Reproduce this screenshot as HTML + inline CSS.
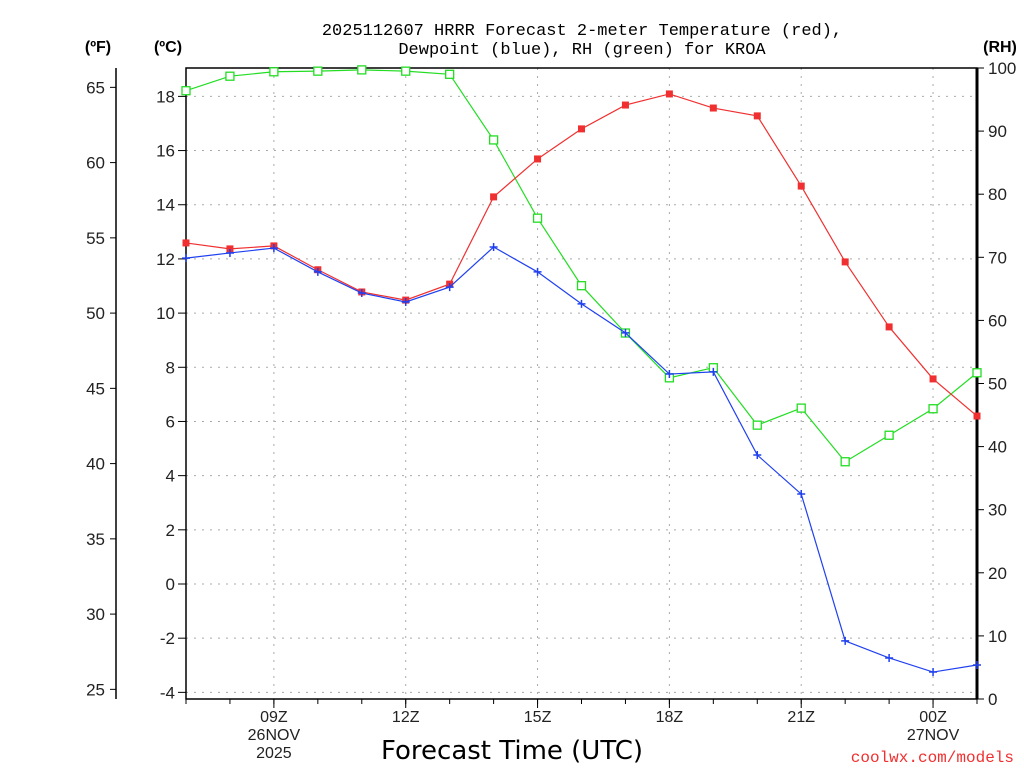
<!DOCTYPE html>
<html><head><meta charset="utf-8"><style>
body{margin:0;background:#fff;width:1024px;height:768px;overflow:hidden}
svg text{font-family:"Liberation Sans",sans-serif}
svg text.mono{font-family:"Liberation Mono",monospace}
svg text.dv{font-family:"DejaVu Sans",sans-serif}
</style></head><body>
<svg id="c" width="1024" height="768" xmlns="http://www.w3.org/2000/svg">
<text class="mono" x="582" y="35" text-anchor="middle" font-size="17">2025112607 HRRR Forecast 2-meter Temperature (red),</text>
<text class="mono" x="582" y="54" text-anchor="middle" font-size="17">Dewpoint (blue), RH (green) for KROA</text>
<text x="98" y="52" text-anchor="middle" font-size="16" font-weight="bold">(ºF)</text>
<text x="168" y="52" text-anchor="middle" font-size="16" font-weight="bold">(ºC)</text>
<text x="1000" y="52" text-anchor="middle" font-size="16" font-weight="bold">(RH)</text>
<text class="dv" x="512" y="759" text-anchor="middle" font-size="26">Forecast Time (UTC)</text>
<text class="mono" x="1014" y="762" text-anchor="end" font-size="16" fill="#f03030">coolwx.com/models</text>
<g id="g"></g>
</svg>
<script>
const hours=[7,8,9,10,11,12,13,14,15,16,17,18,19,20,21,22,23,24,25];
const tempC=[12.59,12.37,12.48,11.6,10.78,10.48,11.07,14.29,15.69,16.8,17.68,18.09,17.57,17.28,14.69,11.89,9.49,7.57,6.2];
const dewC=[12.03,12.22,12.4,11.52,10.74,10.41,10.96,12.44,11.52,10.34,9.27,7.75,7.83,4.76,3.32,-2.1,-2.73,-3.25,-2.99];
const rh=[96.4,98.7,99.4,99.5,99.7,99.5,99.0,88.6,76.2,65.5,58.0,50.9,52.5,43.4,46.1,37.6,41.8,46.0,51.7];
const cTicks=[18,16,14,12,10,8,6,4,2,0,-2,-4];
const fTicks=[65,60,55,50,45,40,35,30,25];
const rhTicks=[100,90,80,70,60,50,40,30,20,10,0];
const xTicks=[9,12,15,18,21,24];
const xLabels=["09Z","12Z","15Z","18Z","21Z","00Z"];
const L=186,R=977,T=68,B=699;
const X=h=>L+(h-7)*(R-L)/18;
const YC=c=>584-c*27.09;
const YF=f=>YC((f-32)*5/9);
const YR=r=>B-r*(B-T)/100;
const g=document.getElementById('g');
const NS="http://www.w3.org/2000/svg";
function el(t,a,p){const e=document.createElementNS(NS,t);for(const k in a)e.setAttribute(k,a[k]);(p||g).appendChild(e);return e;}
cTicks.forEach(c=>{const y=YC(c);
 const l=el('line',{x1:L,x2:R,y1:y,y2:y,stroke:'#aaa','stroke-dasharray':'2,6'});
 
 el('line',{x1:178,x2:L,y1:y,y2:y,stroke:'#000'});
 const t=el('text',{x:175,y:y+6,'text-anchor':'end','font-size':17,fill:'#222'});t.textContent=c;
 });
fTicks.forEach(f=>{const y=YF(f);
 el('line',{x1:110,x2:116,y1:y,y2:y,stroke:'#000'});
 const t=el('text',{x:105,y:y+6,'text-anchor':'end','font-size':17,fill:'#222'});t.textContent=f;
 });
el('line',{x1:116,x2:116,y1:T,y2:B,stroke:'#000','stroke-width':1.5});
rhTicks.forEach(r=>{const y=YR(r);
 el('line',{x1:R,x2:R+7,y1:y,y2:y,stroke:'#000'});
 const t=el('text',{x:988,y:y+6,'font-size':17,fill:'#222'});t.textContent=r;
 });
for(let h=7;h<=25;h++){el('line',{x1:X(h),x2:X(h),y1:B,y2:B+5,stroke:'#000'});}
xTicks.forEach((h,i)=>{const x=X(h);
 const l=el('line',{x1:x,x2:x,y1:T,y2:B,stroke:'#aaa','stroke-dasharray':'2,6'});
 
 el('line',{x1:x,x2:x,y1:B,y2:B+9,stroke:'#000'});
 const t=el('text',{x:x,y:722,'text-anchor':'middle','font-size':16,fill:'#222'});t.textContent=xLabels[i];
 });
[[9,"26NOV",740],[9,"2025",758],[24,"27NOV",740]].forEach(d=>{const t=el('text',{x:X(d[0]),y:d[2],'text-anchor':'middle','font-size':16,fill:'#222'});t.textContent=d[1];
 });
const box=el('rect',{x:L,y:T,width:R-L,height:B-T,fill:'none',stroke:'#000','stroke-width':1.5});

el('line',{x1:R,x2:R,y1:T,y2:B,stroke:'#000','stroke-width':3});
function series(vals,yf,col,mk,name){
 const pts=vals.map((v,i)=>X(hours[i])+','+yf(v)).join(' ');
 const p=el('polyline',{points:pts,fill:'none',stroke:col,'stroke-width':1.2});
 
 vals.forEach((v,i)=>{const x=X(hours[i]),y=yf(v);let m;
  if(mk==='fill')m=el('rect',{x:x-3.5,y:y-3.5,width:7,height:7,fill:col});
  else if(mk==='open')m=el('rect',{x:x-4,y:y-4,width:8,height:8,fill:'#fff',stroke:col,'stroke-width':1.3});
  else m=el('path',{d:`M${x-4},${y}H${x+4}M${x},${y-4}V${y+4}`,stroke:col,'stroke-width':1.5});
  });
}
series(rh,YR,'#22dd22','open','rh');
series(tempC,YC,'#f03030','fill','temperature');
series(dewC,YC,'#2040f0','plus','dewpoint');
</script>
</body></html>
